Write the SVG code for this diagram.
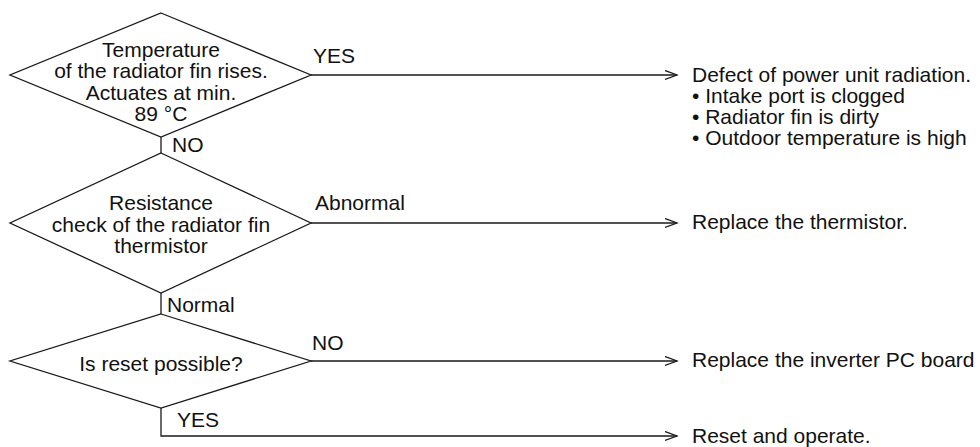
<svg xmlns="http://www.w3.org/2000/svg" width="980" height="447" viewBox="0 0 980 447">
<defs>
<style>
.shape{fill:#fff;stroke:#1a1a1a;stroke-width:1.3}
.line{fill:none;stroke:#1a1a1a;stroke-width:1.3}
text{font-family:"Liberation Sans",Arial,sans-serif;font-size:21px;fill:#111}
.c{text-anchor:middle}
</style>
<marker id="arr" markerWidth="14" markerHeight="12" refX="12" refY="5" orient="auto" markerUnits="userSpaceOnUse">
<path d="M0,0.5 L12,5 L0,9.5" fill="none" stroke="#1a1a1a" stroke-width="1.3"/>
</marker>
</defs>
<rect width="980" height="447" fill="#fff"/>
<g id="connectors">
<line class="line" x1="161" y1="137" x2="161" y2="153"/>
<line class="line" x1="161" y1="293" x2="161" y2="314"/>
<polyline class="line" points="161,408 161,436 677,436" marker-end="url(#arr)"/>
<line class="line" x1="311" y1="75" x2="677" y2="75" marker-end="url(#arr)"/>
<line class="line" x1="311" y1="223" x2="677" y2="223" marker-end="url(#arr)"/>
<line class="line" x1="311" y1="361" x2="677" y2="361" marker-end="url(#arr)"/>
<text x="313" y="63">YES</text>
<text x="172" y="152">NO</text>
<text x="315" y="210">Abnormal</text>
<text x="167" y="312">Normal</text>
<text x="312" y="350">NO</text>
<text x="177" y="427">YES</text>
</g>
<g id="d1">
<polygon class="shape" points="161,13 311,75 161,137 10,75"/>
<text class="c" x="161" y="57">Temperature</text>
<text class="c" x="161" y="78">of the radiator fin rises.</text>
<text class="c" x="161" y="100">Actuates at min.</text>
<text class="c" x="161" y="121">89 °C</text>
</g>
<g id="d2">
<polygon class="shape" points="161,153 311,223 161,293 10,223"/>
<text class="c" x="161" y="210">Resistance</text>
<text class="c" x="161" y="232">check of the radiator fin</text>
<text class="c" x="161" y="253">thermistor</text>
</g>
<g id="d3">
<polygon class="shape" points="161,314 311,361 161,408 10,361"/>
<text class="c" x="161" y="371">Is reset possible?</text>
</g>
<g id="r1">
<text x="692" y="82">Defect of power unit radiation.</text>
<text x="692" y="103">• Intake port is clogged</text>
<text x="692" y="124">• Radiator fin is dirty</text>
<text x="692" y="145">• Outdoor temperature is high</text>
</g>
<g id="r2"><text x="692" y="229">Replace the thermistor.</text></g>
<g id="r3"><text x="692" y="367">Replace the inverter PC board</text></g>
<g id="r4"><text x="692" y="443">Reset and operate.</text></g>
</svg>
